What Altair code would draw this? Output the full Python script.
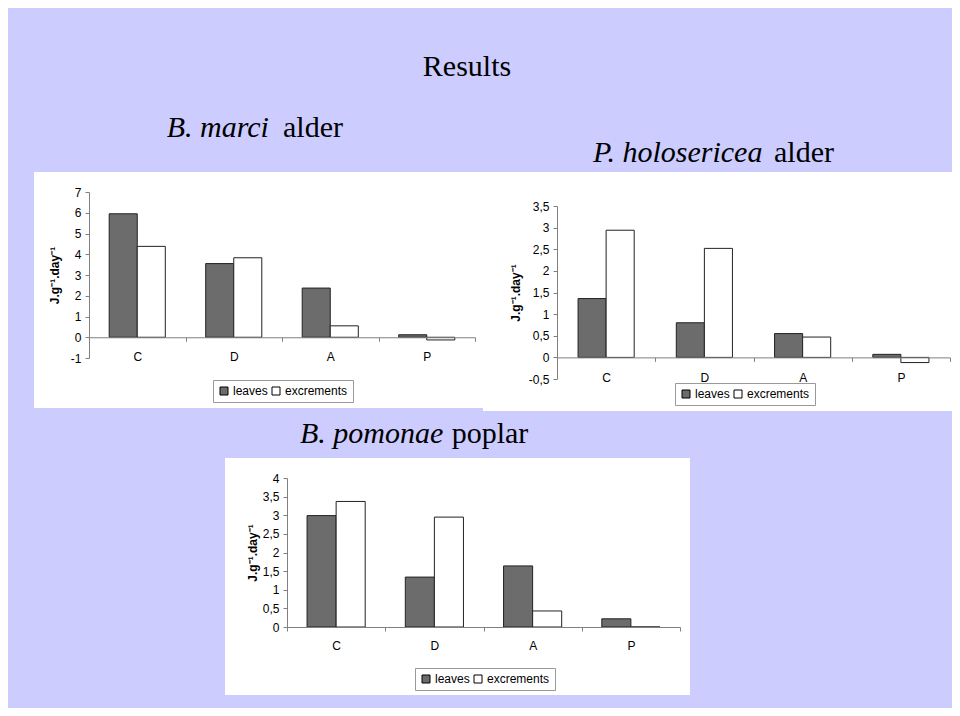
import altair as alt
import pandas as pd

# ---------------- data ----------------
CATS = ["C", "D", "A", "P"]
SERIES = ["leaves", "excrements"]

MARCI_LEAVES = [5.95, 3.55, 2.37, 0.12]
MARCI_EXCR = [4.38, 3.83, 0.55, -0.13]
MARCI_TICKS = [-1, 0, 1, 2, 3, 4, 5, 6, 7]

HOLO_LEAVES = [1.36, 0.80, 0.55, 0.07]
HOLO_EXCR = [2.94, 2.52, 0.47, -0.12]
HOLO_TICKS = [-0.5, 0, 0.5, 1, 1.5, 2, 2.5, 3, 3.5]

POMO_LEAVES = [2.99, 1.34, 1.64, 0.22]
POMO_EXCR = [3.37, 2.95, 0.43, 0.0]
POMO_TICKS = [0, 0.5, 1, 1.5, 2, 2.5, 3, 3.5, 4]

Y_TITLE = "J.g\u207b\u00b9.day\u207b\u00b9"

# ---------------- layout ----------------
W, H = 944, 700
BG = "#ccccff"
SANS = "Liberation Sans"
SERIF = "Liberation Serif"
LEAF_FILL = "#6c6c6c"

one = alt.Data(values=[{}])


def panel(x1, x2, y1, y2):
    return alt.Chart(one).mark_rect(color="white").encode(
        x=alt.value(x1), x2=alt.value(x2), y=alt.value(y1), y2=alt.value(y2)
    )


def label(txt, x, y, size=30, style="normal", align="left"):
    return alt.Chart(one).mark_text(
        text=txt, font=SERIF, fontSize=size, fontStyle=style, color="black",
        align=align, baseline="alphabetic"
    ).encode(x=alt.value(x), y=alt.value(y))


def bar_chart(leaves, excr, ticks, xr, yr, lab_pad, title_pad, legend_xy, off_pad):
    df = pd.DataFrame({
        "cat": CATS * 2,
        "series": [SERIES[0]] * len(CATS) + [SERIES[1]] * len(CATS),
        "value": leaves + excr,
    })
    dmin, dmax = min(ticks), max(ticks)
    y_zero = yr[0] + (0 - dmin) / (dmax - dmin) * (yr[1] - yr[0])
    return alt.Chart(df).mark_bar(stroke="#222", strokeWidth=1).encode(
        x=alt.X("cat:N", sort=CATS, title=None,
                scale=alt.Scale(range=list(xr), paddingInner=0, paddingOuter=0),
                axis=alt.Axis(orient="bottom", offset=y_zero - H, tickBand="extent",
                              tickSize=4, labelPadding=lab_pad, labelAngle=0,
                              domainColor="#808080", tickColor="#808080",
                              labelFont=SANS, labelFontSize=12, labelColor="black",
                              grid=False, zindex=1)),
        xOffset=alt.XOffset("series:N", sort=SERIES,
                            scale=alt.Scale(paddingOuter=off_pad, paddingInner=0)),
        y=alt.Y("value:Q", title=Y_TITLE,
                scale=alt.Scale(domain=[dmin, dmax], range=list(yr), nice=False, zero=False),
                axis=alt.Axis(orient="left", offset=-xr[0], values=ticks,
                              labelExpr="replace(toString(datum.value), '.', ',')",
                              tickSize=4, labelPadding=4, grid=False,
                              domainColor="#808080", tickColor="#808080",
                              labelFont=SANS, labelFontSize=12, labelColor="black",
                              titleFont=SANS, titleFontSize=12, titleFontWeight="bold",
                              titleColor="black", titlePadding=title_pad, zindex=1)),
        color=alt.Color("series:N", title=None,
                        scale=alt.Scale(domain=SERIES, range=[LEAF_FILL, "white"]),
                        legend=alt.Legend(orient="none", legendX=legend_xy[0],
                                          legendY=legend_xy[1], direction="horizontal",
                                          symbolType="square", symbolSize=64,
                                          symbolStrokeColor="black", symbolStrokeWidth=1,
                                          labelFont=SANS, labelFontSize=12,
                                          labelColor="black", labelOffset=3,
                                          columnPadding=2, padding=5,
                                          strokeColor="#999999", fillColor="white",
                                          zindex=1)),
    )


c1 = bar_chart(MARCI_LEAVES, MARCI_EXCR, MARCI_TICKS, (81, 467), (350, 184),
               10, 9, (205, 372), 0.72)
c2 = bar_chart(HOLO_LEAVES, HOLO_EXCR, HOLO_TICKS, (549, 942), (371, 198),
               11, 6, (667, 375), 0.75)
c3 = bar_chart(POMO_LEAVES, POMO_EXCR, POMO_TICKS, (279, 672), (619, 470),
               9, 3, (407, 660), 0.69)

layers = [
    panel(26, 475, 164, 400),
    panel(475, 944, 164, 403),
    panel(217, 682, 450, 687),
    label("Results", 459, 68, align="center"),
    label("B. marci", 158.7, 129.3, style="italic"),
    label("alder", 275, 129.3),
    label("P. holosericea", 585, 153.7, style="italic"),
    label("alder", 766, 153.7),
    label("B. pomonae", 292, 434.7, style="italic"),
    label("poplar", 443.7, 434.7),
    c1, c2, c3,
]

chart = alt.layer(*layers).resolve_scale(
    x="independent", y="independent", xOffset="independent", color="independent"
).resolve_axis(
    x="independent", y="independent"
).resolve_legend(
    color="independent"
).properties(
    width=W, height=H, background=BG, padding=0,
    autosize=alt.AutoSizeParams(type="none"),
).configure_view(stroke="transparent")

chart.save("out.html", embed_options={"renderer": "svg", "actions": False})
